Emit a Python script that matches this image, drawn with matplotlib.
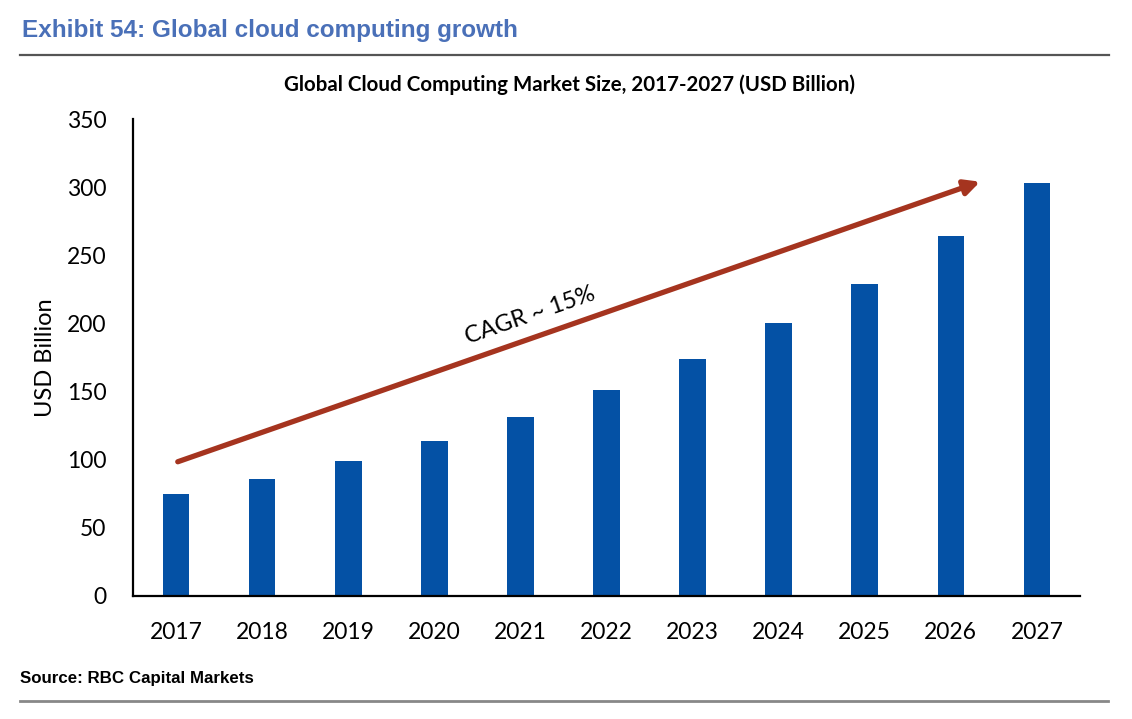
import matplotlib
matplotlib.use("Agg")
import matplotlib.pyplot as plt
from matplotlib.lines import Line2D

years = ["2017", "2018", "2019", "2020", "2021", "2022", "2023", "2024", "2025", "2026", "2027"]
market_size = [75, 86, 99, 114, 131, 151, 174, 200, 229, 264, 303]
y_ticks = [0, 50, 100, 150, 200, 250, 300, 350]
arrow_start = (0.02, 98.5)
arrow_end = (9.34, 304)
cagr_label_pos = (4.11, 206)

W, H = 1132, 719
fig = plt.figure(figsize=(W / 100, H / 100), dpi=100)
ax = fig.add_axes([133 / W, 1 - 596 / H, (1080 - 133) / W, (596 - 119) / H])

x = list(range(len(years)))
ax.bar(x, market_size, width=0.31, color="#0451a5", zorder=2)
ax.set_xlim(-0.5, len(years) - 0.5)
ax.set_ylim(0, 350)
ax.set_yticks(y_ticks)
ax.set_xticks(x)
ax.set_xticklabels(years)
for s in ["top", "right"]:
    ax.spines[s].set_visible(False)
for s in ["left", "bottom"]:
    ax.spines[s].set_linewidth(1.6)
    ax.spines[s].set_color("black")
ax.tick_params(axis="both", length=0, labelsize=16.5, pad=19)
for lab in ax.get_xticklabels() + ax.get_yticklabels():
    lab.set_family("Lato")

ax.annotate("", xy=arrow_end, xytext=arrow_start,
            arrowprops=dict(arrowstyle="-|>,head_length=0.9,head_width=0.45",
                            color="#a5341f", lw=3.8, shrinkA=0, shrinkB=0), zorder=3)
ax.text(cagr_label_pos[0], cagr_label_pos[1], "CAGR ~ 15%", rotation=19.2,
        rotation_mode="anchor", ha="center", va="center", fontsize=17,
        family="Lato", color="black")

fig.text(45 / W, 1 - 358 / H, "USD Billion", rotation=90, ha="center", va="center",
         fontsize=17, family="Lato")

fig.text(570 / W, 1 - 85 / H, "Global Cloud Computing Market Size, 2017-2027 (USD Billion)",
         ha="center", va="center", fontsize=14.8, fontweight="bold", family="Lato")

fig.text(22 / W, 1 - 31 / H, "Exhibit 54: Global cloud computing growth",
         ha="left", va="center", fontsize=17.5, fontweight="bold",
         family="Liberation Sans", color="#4a70b8")
fig.text(20 / W, 1 - 679 / H, "Source: RBC Capital Markets",
         ha="left", va="center", fontsize=12.2, fontweight="bold",
         family="Liberation Sans", color="black")

fig.add_artist(Line2D([20 / W, 1109 / W], [1 - 54.7 / H, 1 - 54.7 / H],
                      color="#555555", lw=1.6, transform=fig.transFigure))
fig.add_artist(Line2D([20 / W, 1108 / W], [1 - 700.7 / H, 1 - 700.7 / H],
                      color="#888888", lw=2.0, transform=fig.transFigure))

fig.savefig("out.png", dpi=100, facecolor="white")
